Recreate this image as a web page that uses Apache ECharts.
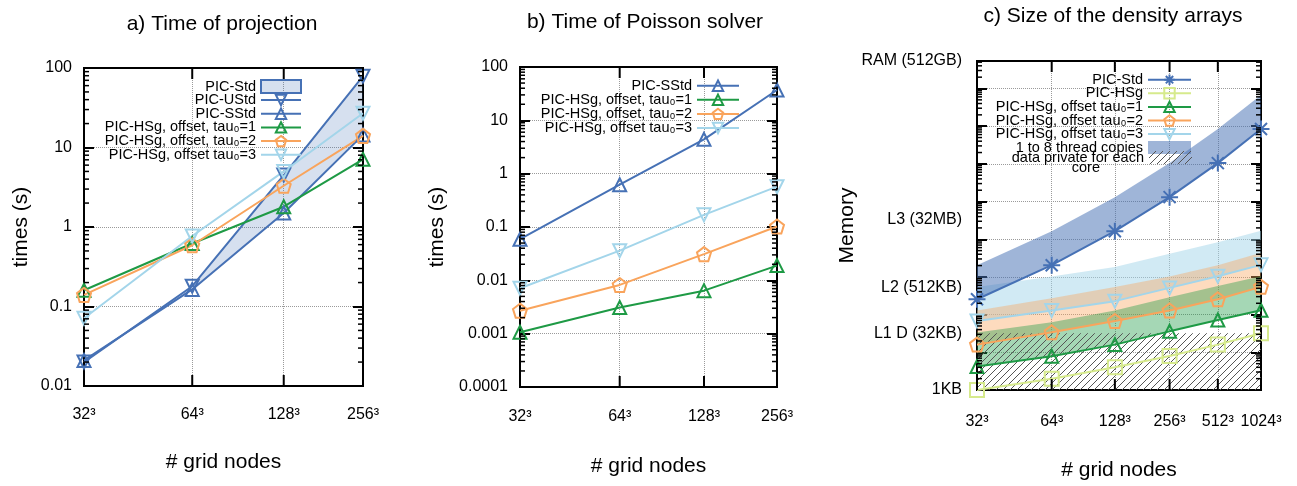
<!DOCTYPE html>
<html>
<head>
<meta charset="utf-8">
<script src="https://cdn.jsdelivr.net/npm/echarts@6/dist/echarts.min.js"></script>
<style>
html, body { margin: 0; padding: 0; background: #fff; }
#chart { width: 1297px; height: 486px; }
</style>
</head>
<body>
<div id="chart"></div>
<script>
// x: log2 of the number of grid nodes (32^3 -> 15, 64^3 -> 18 ...)
var gridExp = [15, 18, 21, 24, 27, 30];
var gridLabels = ['32³', '64³', '128³', '256³', '512³', '1024³'];

// a) time of projection (s)
var projUStd = [0.020, 0.18, 4.5, 79];
var projSStd = [0.021, 0.164, 1.5, 14.4];
var projTau1 = [0.16, 0.62, 1.8, 7.1];
var projTau2 = [0.14, 0.59, 3.3, 14];
var projTau3 = [0.071, 0.77, 5.0, 27];

// b) time of Poisson solver (s)
var poisSStd = [0.059, 0.62, 4.4, 37];
var poisTau1 = [0.00106, 0.0031, 0.0064, 0.0189];
var poisTau2 = [0.0027, 0.0082, 0.031, 0.102];
var poisTau3 = [0.0071, 0.036, 0.169, 0.57];

// c) size of the density arrays (KB), one copy
var memStd = [256, 2048, 16384, 131072, 1048576, 8388608];
var memHSg = [1, 2, 4, 8, 16, 32];
var memTau1 = [4.2, 7.9, 16, 36, 72, 131];
var memTau2 = [16, 34, 68, 129, 256, 546];
var memTau3 = [68, 129, 228, 512, 1040, 2090];
var threadCopies = 8;
var privateRange = [1, 32];
var memLevels = [1, 32, 512, 32768, 536870912];
var memLevelLabels = ['1KB', 'L1 D (32KB)', 'L2 (512KB)', 'L3 (32MB)', 'RAM (512GB)'];

var FONT = 'Liberation Sans';
var BLUE = '#4671b5', GREEN = '#1e9a45', ORANGE = '#f9a45c', LBLUE = '#a3d5ea', YELLOW = '#d6ea8c';

var lg = Math.log10;

var panels = [
  { grid: { left: 84, top: 68, width: 279, height: 318 }, n: 4, yMin: 0.01, yMax: 100,
    yName: 'times (s)', yNameGap: 52, xNameGap: 66, xMargin: 21 },
  { grid: { left: 520, top: 67, width: 257, height: 320 }, n: 4, yMin: 0.0001, yMax: 100,
    yName: 'times (s)', yNameGap: 72, xNameGap: 69, xMargin: 22 },
  { grid: { left: 977, top: 61, width: 284, height: 332 }, n: 6, yMin: 1, yMax: 536870912,
    yName: 'Memory', yNameGap: 102, xNameGap: 70, xMargin: 24 }
];

// 2..9 x 10^d between lo and hi
function minorValues(lo, hi) {
  var out = [];
  for (var d = Math.floor(lg(lo)); d <= Math.ceil(lg(hi)); d++) {
    for (var k = 2; k <= 9; k++) {
      var v = k * Math.pow(10, d);
      if (v > lo && v < hi) out.push(v);
    }
  }
  return out;
}

function fmtX(v) {
  for (var i = 0; i < gridExp.length; i++) {
    if (Math.abs(lg(gridExp[i]) - v) < 1e-6) return gridLabels[i];
  }
  return '';
}

function fmtMem(v) {
  for (var i = 0; i < memLevels.length; i++) {
    if (Math.abs(Math.log2(memLevels[i]) - v) < 1e-6) return memLevelLabels[i];
  }
  return '';
}

var gridLine = { type: 'dotted', color: '#9a9a9a', width: 1 };

// value axis used only for labels / split lines at custom places
function labelAxis(o) {
  return {
    type: 'value', gridIndex: o.grid, position: o.position, min: o.min, max: o.max,
    axisLine: { show: false, onZero: false },
    axisTick: { show: true, length: 0, customValues: o.labels },
    axisLabel: { show: true, customValues: o.labels, formatter: o.formatter,
      fontSize: 16, color: '#000', fontFamily: FONT, margin: o.margin },
    splitLine: { show: !!o.split, showMinLine: false, showMaxLine: false, lineStyle: gridLine },
    name: o.name || '', nameLocation: 'middle', nameGap: o.nameGap,
    nameTextStyle: { fontSize: 21, color: '#000', fontFamily: FONT }
  };
}

var xAxes = [], yAxes = [], X = [], Y = [];
panels.forEach(function (P, p) {
  var xs = gridExp.slice(0, P.n);
  var xv = xs.map(lg);
  X[p] = xAxes.length;
  xAxes.push({ type: 'log', gridIndex: p, min: xs[0], max: xs[P.n - 1], show: false,
    axisLine: { onZero: false } });
  xAxes.push(labelAxis({ grid: p, position: 'bottom', min: xv[0], max: xv[P.n - 1],
    labels: xv, formatter: fmtX, margin: P.xMargin, split: true,
    name: '# grid nodes', nameGap: P.xNameGap }));

  Y[p] = yAxes.length;
  yAxes.push({ type: 'log', gridIndex: p, min: P.yMin, max: P.yMax, position: 'left',
    axisLine: { show: false, onZero: false },
    axisTick: { inside: true, length: 10, lineStyle: { color: '#000', width: 2 } },
    axisLabel: { show: p < 2, fontSize: 16, color: '#000', fontFamily: FONT, margin: 12 },
    splitLine: { show: true, showMinLine: false, showMaxLine: false, lineStyle: gridLine },
    name: p < 2 ? P.yName : '', nameLocation: 'middle', nameGap: P.yNameGap,
    nameTextStyle: { fontSize: 21, color: '#000', fontFamily: FONT } });
  yAxes.push({ type: 'log', gridIndex: p, min: P.yMin, max: P.yMax, position: 'right',
    axisLine: { show: false, onZero: false },
    axisTick: { inside: true, length: 10, lineStyle: { color: '#000', width: 2 } },
    axisLabel: { show: false }, splitLine: { show: false } });
  if (p === 2) {
    var lv = memLevels.map(Math.log2);
    yAxes.push({ type: 'value', gridIndex: p, position: 'left', min: lv[0], max: lv[lv.length - 1],
      axisLine: { show: false, onZero: false }, axisTick: { show: false }, splitLine: { show: false },
      axisLabel: { customValues: lv, formatter: fmtMem, fontSize: 16, color: '#000',
        fontFamily: FONT, margin: 15 },
      name: P.yName, nameLocation: 'middle', nameGap: P.yNameGap,
      nameTextStyle: { fontSize: 21, color: '#000', fontFamily: FONT } });
  }
});

// tick marks drawn on both sides of the frame, placed through the axes
function yTicks(p, vals, len) {
  return {
    type: 'custom', xAxisIndex: X[p], yAxisIndex: Y[p], silent: true, z: 5, clip: false,
    data: vals.map(function (v) { return [gridExp[0], v]; }),
    renderItem: function (params, api) {
      var cs = params.coordSys;
      var y = api.coord([api.value(0), api.value(1)])[1];
      var st = { stroke: '#000', lineWidth: 1.5 };
      return { type: 'group', children: [
        { type: 'line', shape: { x1: cs.x, y1: y, x2: cs.x + len, y2: y }, style: st },
        { type: 'line', shape: { x1: cs.x + cs.width, y1: y, x2: cs.x + cs.width - len, y2: y }, style: st }
      ] };
    }
  };
}

function xTicks(p, len) {
  var P = panels[p];
  return {
    type: 'custom', xAxisIndex: X[p], yAxisIndex: Y[p], silent: true, z: 5, clip: false,
    data: gridExp.slice(0, P.n).map(function (x) { return [x, P.yMin]; }),
    renderItem: function (params, api) {
      var cs = params.coordSys;
      var x = api.coord([api.value(0), api.value(1)])[0];
      var st = { stroke: '#000', lineWidth: 2 };
      return { type: 'group', children: [
        { type: 'line', shape: { x1: x, y1: cs.y, x2: x, y2: cs.y + len }, style: st },
        { type: 'line', shape: { x1: x, y1: cs.y + cs.height, x2: x, y2: cs.y + cs.height - len }, style: st }
      ] };
    }
  };
}

var SYM = {
  up: { type: 'triangle', size: 13, rotate: 0 },
  down: { type: 'triangle', size: 13, rotate: 180 },
  pent: { type: 'path://M0,-10L9.51,-3.09L5.88,8.09L-5.88,8.09L-9.51,-3.09Z', size: 14, rotate: 0 },
  star: { type: 'path://M0,-10L0,10M-10,0L10,0M-7.07,-7.07L7.07,7.07M-7.07,7.07L7.07,-7.07', size: 17, rotate: 0 },
  square: { type: 'rect', size: 14, rotate: 0 }
};

function lineSeries(name, p, ys, color, sym) {
  return {
    type: 'line', name: name, xAxisIndex: X[p], yAxisIndex: Y[p],
    data: ys.map(function (v, i) { return [gridExp[i], v]; }),
    symbol: sym.type, symbolSize: sym.size, symbolRotate: sym.rotate,
    lineStyle: { color: color, width: 2 },
    itemStyle: { color: 'none', borderColor: color, borderWidth: 2 },
    emphasis: { disabled: true }, z: 3
  };
}

function scaled(arr, f) { return arr.map(function (v) { return v * f; }); }

function bandSeries(name, p, lo, hi, fill, border) {
  return {
    type: 'custom', name: name, xAxisIndex: X[p], yAxisIndex: Y[p], silent: true, z: 1,
    data: [[gridExp[0], lo[0]]],
    itemStyle: { color: fill, borderColor: border || fill, borderWidth: border ? 2 : 0 },
    renderItem: function (params, api) {
      var pts = [], i;
      for (i = 0; i < hi.length; i++) pts.push(api.coord([gridExp[i], hi[i]]));
      for (i = lo.length - 1; i >= 0; i--) pts.push(api.coord([gridExp[i], lo[i]]));
      return { type: 'polygon', shape: { points: pts }, style: { fill: fill, stroke: null } };
    }
  };
}

function hatchCanvas() {
  var c = document.createElement('canvas');
  c.width = 7; c.height = 7;
  var g = c.getContext('2d');
  g.strokeStyle = '#555'; g.lineWidth = 1;
  g.beginPath();
  g.moveTo(0, 7); g.lineTo(7, 0);
  g.moveTo(-1, 1); g.lineTo(1, -1);
  g.moveTo(6, 8); g.lineTo(8, 6);
  g.stroke();
  return c;
}
var hatch = { image: hatchCanvas(), repeat: 'repeat' };

var hatchName = 'data private for each';
var hatchSeries = {
  type: 'custom', name: hatchName, xAxisIndex: X[2], yAxisIndex: Y[2], silent: true, z: 2,
  data: [[gridExp[0], privateRange[0]]],
  itemStyle: { color: hatch },
  renderItem: function (params, api) {
    var a = api.coord([gridExp[0], privateRange[0]]);
    var b = api.coord([gridExp[gridExp.length - 1], privateRange[1]]);
    return { type: 'polygon', shape: { points: [[a[0], a[1]], [b[0], a[1]], [b[0], b[1]], [a[0], b[1]]] },
      style: { fill: hatch, stroke: null } };
  }
};

var nT1 = 'PIC-HSg, offset, tau₀=1', nT2 = 'PIC-HSg, offset, tau₀=2', nT3 = 'PIC-HSg, offset tau₀=3';
var nC1 = 'PIC-HSg, offset tau₀=1', nC2 = 'PIC-HSg, offset tau₀=2';
var nStdC = 'PIC-Std ';
var nBand = '1 to 8 thread copies';

var series = [
  // a
  bandSeries('PIC-Std', 0, projSStd, projUStd, 'rgba(70,113,181,0.22)', BLUE),
  lineSeries('PIC-UStd', 0, projUStd, BLUE, SYM.down),
  lineSeries('PIC-SStd', 0, projSStd, BLUE, SYM.up),
  lineSeries(nT1, 0, projTau1, GREEN, SYM.up),
  lineSeries(nT2, 0, projTau2, ORANGE, SYM.pent),
  lineSeries(nT3, 0, projTau3, LBLUE, SYM.down),
  // b
  lineSeries('PIC-SStd', 1, poisSStd, BLUE, SYM.up),
  lineSeries(nT1, 1, poisTau1, GREEN, SYM.up),
  lineSeries(nT2, 1, poisTau2, ORANGE, SYM.pent),
  lineSeries(nT3, 1, poisTau3, LBLUE, SYM.down),
  // c
  bandSeries('band tau3', 2, memTau3, scaled(memTau3, threadCopies), 'rgba(163,213,234,0.5)'),
  bandSeries('band tau2', 2, memTau2, scaled(memTau2, threadCopies), 'rgba(249,164,92,0.4)'),
  bandSeries('band tau1', 2, memTau1, scaled(memTau1, threadCopies), 'rgba(30,154,69,0.4)'),
  bandSeries(nBand, 2, memStd, scaled(memStd, threadCopies), 'rgba(70,113,181,0.52)'),
  hatchSeries,
  lineSeries(nStdC, 2, memStd, BLUE, SYM.star),
  lineSeries('PIC-HSg', 2, memHSg, YELLOW, SYM.square),
  lineSeries(nC1, 2, memTau1, GREEN, SYM.up),
  lineSeries(nC2, 2, memTau2, ORANGE, SYM.pent),
  lineSeries(nT3, 2, memTau3, LBLUE, SYM.down),
  // second line of the hatch legend entry
  { type: 'line', name: 'core', xAxisIndex: X[2], yAxisIndex: Y[2], data: [] }
];

panels.forEach(function (P, p) {
  series.push(yTicks(p, minorValues(P.yMin, P.yMax), 5));
  series.push(xTicks(p, 11));
});

function legendBox(data, right, top, itemWidth, gap) {
  return {
    data: data, orient: 'vertical', align: 'right', right: right, top: top, padding: 0,
    itemWidth: itemWidth, itemHeight: 13, itemGap: gap, selectedMode: false,
    textStyle: { fontSize: 14.5, color: '#000', fontFamily: FONT },
    formatter: function (name) { return name.trim(); }
  };
}

var option = {
  animation: false,
  backgroundColor: '#fff',
  textStyle: { fontFamily: FONT },
  title: [
    { text: 'a) Time of projection', left: 222, top: 14, textAlign: 'center', padding: 0,
      textStyle: { fontSize: 21, fontWeight: 'normal', color: '#000', fontFamily: FONT } },
    { text: 'b) Time of Poisson solver', left: 645, top: 12, textAlign: 'center', padding: 0,
      textStyle: { fontSize: 21, fontWeight: 'normal', color: '#000', fontFamily: FONT } },
    { text: 'c) Size of the density arrays', left: 1113, top: 6, textAlign: 'center', padding: 0,
      textStyle: { fontSize: 21, fontWeight: 'normal', color: '#000', fontFamily: FONT } }
  ],
  grid: panels.map(function (P) {
    return { left: P.grid.left, top: P.grid.top, width: P.grid.width, height: P.grid.height,
      show: true, borderColor: '#000', borderWidth: 2, backgroundColor: 'transparent' };
  }),
  legend: [
    legendBox([{ name: 'PIC-Std', icon: 'rect' }, 'PIC-UStd', 'PIC-SStd', nT1, nT2, nT3], 995, 79, 40, -1.7),
    legendBox(['PIC-SStd', nT1, nT2, nT3], 557, 78, 42, -1.3),
    legendBox([nStdC, 'PIC-HSg', nC1, nC2, nT3, { name: nBand, icon: 'rect' }], 105, 72, 43, -1.8),
    legendBox([{ name: hatchName, icon: 'rect' },
      { name: 'core', icon: 'none', textStyle: { padding: [0, 44, 0, 0] } }], 105, 150, 43, -5)
  ],
  xAxis: xAxes,
  yAxis: yAxes,
  series: series
};

var chart = echarts.init(document.getElementById('chart'), null, { renderer: 'canvas' });
chart.setOption(option);
</script>
</body>
</html>
